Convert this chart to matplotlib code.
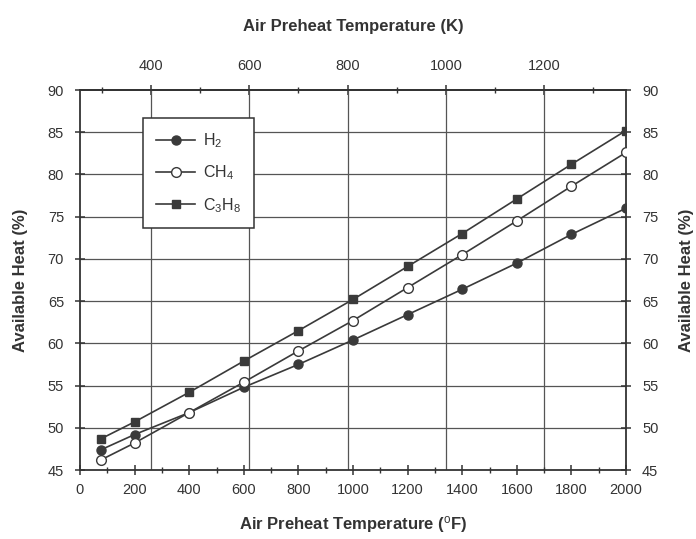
import matplotlib
matplotlib.use("Agg")
import matplotlib.pyplot as plt
from matplotlib.ticker import MultipleLocator, FixedLocator

plt.rcParams['font.family'] = ['Liberation Sans', 'DejaVu Sans']
plt.rcParams['mathtext.fontset'] = 'custom'
plt.rcParams['mathtext.rm'] = 'Liberation Sans'
plt.rcParams['mathtext.it'] = 'Liberation Sans'
plt.rcParams['mathtext.bf'] = 'Liberation Sans:bold'

temp_F = [77, 200, 400, 600, 800, 1000, 1200, 1400, 1600, 1800, 2000]
h2 = [47.4, 49.2, 51.8, 54.8, 57.5, 60.4, 63.4, 66.4, 69.5, 72.9, 76.0]
ch4 = [46.2, 48.2, 51.8, 55.4, 59.1, 62.7, 66.6, 70.5, 74.5, 78.6, 82.6]
c3h8 = [48.7, 50.7, 54.2, 57.9, 61.5, 65.2, 69.1, 73.0, 77.1, 81.2, 85.2]
labels = ['H$_2$', 'CH$_4$', 'C$_3$H$_8$']
top_ticks_K = [400, 600, 800, 1000, 1200]
top_minor_K = [300, 500, 700, 900, 1100, 1300]

def f2k(f):
    return (f - 32.0) * 5.0 / 9.0 + 273.15

def k2f(k):
    return (k - 273.15) * 9.0 / 5.0 + 32.0

fig = plt.figure(figsize=(6.96, 5.39), dpi=100)
ax = fig.add_axes([80/696, 1 - 470/539, 546/696, 380/539])

lc = '#3a3a3a'
tc = '#333333'
ax.plot(temp_F, h2, '-o', color=lc, mfc=lc, mec=lc, ms=6.5, lw=1.2, label=labels[0], zorder=3)
ax.plot(temp_F, ch4, '-o', color=lc, mfc='white', mec=lc, ms=7, lw=1.2, label=labels[1], zorder=3)
ax.plot(temp_F, c3h8, '-s', color=lc, mfc=lc, mec=lc, ms=6, lw=1.2, label=labels[2], zorder=3)

ax.set_xlim(0, 2000)
ax.set_ylim(45, 90)
ax.xaxis.set_major_locator(MultipleLocator(200))
ax.xaxis.set_minor_locator(MultipleLocator(100))
ax.yaxis.set_major_locator(MultipleLocator(5))

# grid: horizontal every 5, vertical at K ticks
for y in range(50, 90, 5):
    ax.axhline(y, color='#555555', lw=0.9, zorder=1)
for k in top_ticks_K:
    ax.axvline(k2f(k), color='#555555', lw=0.9, zorder=1)

for s in ax.spines.values():
    s.set_color('#333333')
    s.set_linewidth(1.3)

ax.tick_params(axis='both', which='major', direction='inout', length=7, width=1.1,
               colors='#333333', labelsize=10.5, labelcolor=tc)
ax.tick_params(axis='x', which='minor', direction='inout', length=5, width=1.0, colors='#333333')
ax.tick_params(axis='y', right=True, labelright=True, pad=8)
ax.tick_params(axis='x', which='major', pad=6)

sec = ax.secondary_xaxis('top', functions=(f2k, k2f))
sec.xaxis.set_major_locator(FixedLocator(top_ticks_K))
sec.xaxis.set_minor_locator(FixedLocator(top_minor_K))
sec.tick_params(axis='x', which='major', direction='inout', length=7, width=1.1,
                colors='#333333', labelsize=10.5, labelcolor=tc, pad=9)
sec.tick_params(axis='x', which='minor', direction='inout', length=5, width=1.0, colors='#333333')
sec.spines['top'].set_color('#333333')
sec.spines['top'].set_linewidth(1.3)
sec.set_xlabel('Air Preheat Temperature (K)', fontsize=12, fontweight='bold', color=tc, labelpad=20)

ax.set_xlabel(r'Air Preheat Temperature ($^{\mathrm{o}}$F)', fontsize=12, fontweight='bold',
              color=tc, labelpad=12)
ax.set_ylabel('Available Heat (%)', fontsize=12, fontweight='bold', color=tc, labelpad=14)
fig.text(686/696, 1 - 280/539, 'Available Heat (%)', rotation=90, ha='center', va='center',
         fontsize=12, fontweight='bold', color=tc)

leg = ax.legend(loc='upper left', bbox_to_anchor=(0.115, 0.927), frameon=True, fancybox=False,
                edgecolor='#333333', framealpha=1, fontsize=11.5, handlelength=2.4,
                labelspacing=0.85, borderpad=0.85, handletextpad=0.5, borderaxespad=0)
leg.get_frame().set_linewidth(1.1)
for t in leg.get_texts():
    t.set_color(tc)

fig.savefig('out.png', dpi=100)
